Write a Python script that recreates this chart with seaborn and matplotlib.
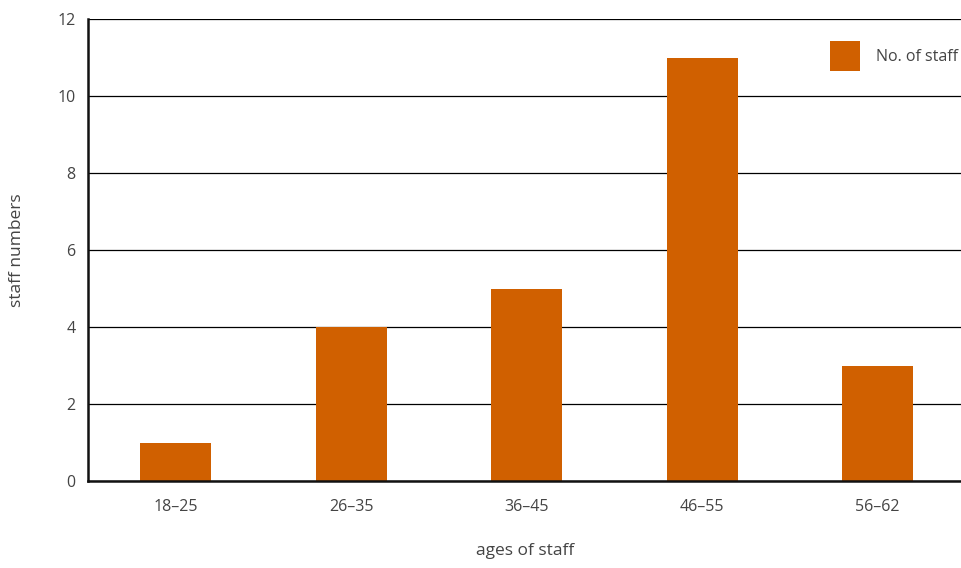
import matplotlib
matplotlib.use("Agg")
import matplotlib.pyplot as plt
from matplotlib.patches import Patch
import seaborn as sns
import pandas as pd

age_groups = ["18\u201325", "26\u201335", "36\u201345", "46\u201355", "56\u201362"]
staff_counts = [1, 4, 5, 11, 3]
series_name = "No. of staff"

bar_color = "#D06000"
text_color = "#444444"

sns.set_theme(style="white")
plt.rcParams["font.family"] = ["Open Sans", "DejaVu Sans"]

df = pd.DataFrame({"age": age_groups, "count": staff_counts})

fig = plt.figure(figsize=(9.62, 5.68), dpi=100)
ax_w = 877.5
ax = fig.add_axes([88 / 962, 87 / 568, ax_w / 962, 462 / 568])

sns.barplot(data=df, x="age", y="count", color=bar_color, width=0.405,
            saturation=1, linewidth=0, edgecolor="none", ax=ax, zorder=3)

ax.set_ylim(0, 12)
ax.set_yticks(range(0, 13, 2))
ax.yaxis.grid(True, color="black", linewidth=0.9)
ax.set_axisbelow(True)

for side in ["top", "right"]:
    ax.spines[side].set_visible(False)
ax.spines["left"].set_color("#111111")
ax.spines["left"].set_linewidth(1.8)
ax.spines["bottom"].set_color("#111111")
ax.spines["bottom"].set_linewidth(1.8)
ax.spines["bottom"].set_zorder(4)

ax.tick_params(axis="both", length=0, labelsize=11.5, colors=text_color)
ax.tick_params(axis="x", pad=13)
ax.tick_params(axis="y", pad=9)

ax.set_xlabel("ages of staff", fontsize=12.5, color=text_color)
ax.set_ylabel("staff numbers", fontsize=12.5, color=text_color)
ax.xaxis.set_label_coords((525 - 88) / ax_w, (481 - 543) / 462)
ax.yaxis.set_label_coords((25 - 88) / ax_w, 0.5)

handle = Patch(facecolor=bar_color, edgecolor="none")
ax.legend([handle], [series_name], loc="center",
          bbox_to_anchor=((894 - 88) / ax_w, (481 - 56) / 462), frameon=False,
          handlelength=1.9, handleheight=2.6, handletextpad=1.0,
          fontsize=11.5, labelcolor=text_color, borderpad=0, borderaxespad=0)

fig.savefig("out.png", dpi=100)
